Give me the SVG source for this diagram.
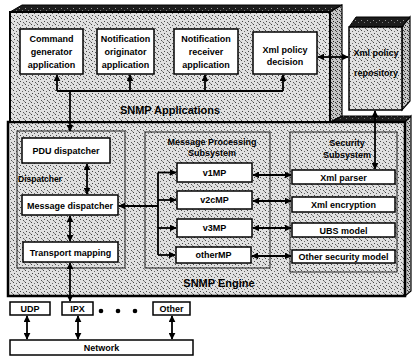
<svg xmlns="http://www.w3.org/2000/svg" width="414" height="359" viewBox="0 0 414 359">
<defs>
<pattern id="st" width="6" height="6" patternUnits="userSpaceOnUse">
<rect width="6" height="6" fill="#e0e0e0"/>
<rect x="1" y="0" width="1" height="1" fill="#444"/>
<rect x="4" y="1" width="1" height="1" fill="#666"/>
<rect x="2" y="3" width="1" height="1" fill="#444"/>
<rect x="5" y="4" width="1" height="1" fill="#555"/>
<rect x="0" y="5" width="1" height="1" fill="#888"/>
</pattern>
<pattern id="dk" width="6" height="6" patternUnits="userSpaceOnUse">
<rect width="6" height="6" fill="#1c1c1c"/>
<rect x="1" y="2" width="1" height="1" fill="#999"/>
<rect x="4" y="4" width="1" height="1" fill="#777"/>
</pattern>
<pattern id="sd" width="4" height="4" patternUnits="userSpaceOnUse">
<rect width="4" height="4" fill="#c4c4c4"/>
<rect x="1" y="1" width="1" height="1" fill="#222"/>
<rect x="3" y="2" width="1" height="1" fill="#333"/>
<rect x="0" y="3" width="1" height="1" fill="#444"/>
</pattern>
<marker id="ah" viewBox="0 0 10 10" refX="9" refY="5" markerWidth="7" markerHeight="7" markerUnits="userSpaceOnUse" orient="auto-start-reverse">
<path d="M0,0 L10,5 L0,10 z" fill="#000"/>
</marker>
<style>
text{font-family:"Liberation Sans",Arial,sans-serif;font-weight:bold;fill:#000;}
.t{font-size:9px;text-anchor:middle;}
.big{font-size:11px;text-anchor:middle;}
.box{fill:#fff;stroke:#000;stroke-width:1.5;}
.grp{fill:url(#st);stroke:#222;stroke-width:1;}
.top{fill:url(#dk);stroke:#000;stroke-width:1;}
.side{fill:url(#sd);stroke:#000;stroke-width:1.2;}
.ln{fill:none;stroke:#000;stroke-width:1.8;}
.a1{marker-end:url(#ah);}
.a2{marker-start:url(#ah);marker-end:url(#ah);}
</style>
</defs>
<rect width="414" height="359" fill="#fff"/>

<g id="snmp-engine">
<polygon class="top" points="330,122 342,116 411,116 405,122"/>
<polygon class="side" points="405,122 411,116 411,291 405,296"/>
<rect x="8" y="122" width="397" height="174" fill="url(#st)" stroke="#000" stroke-width="2.5"/>
<text class="big" x="219" y="287">SNMP Engine</text>
</g>

<g id="snmp-applications">
<polygon class="top" points="10,12 22,5 342,5 330,12"/>
<polygon class="side" points="330,12 342,5 342,116 330,122"/>
<rect x="10" y="12" width="320" height="110" fill="url(#st)" stroke="#000" stroke-width="2"/>
<text class="big" x="170" y="114">SNMP Applications</text>
</g>

<g id="xml-policy-repository">
<polygon class="top" points="349,27 356,17 410,17 402,27"/>
<polygon class="side" points="402,27 410,17 410,101 402,110"/>
<rect x="349" y="27" width="53" height="83" fill="url(#st)" stroke="#000" stroke-width="1.5"/>
<text class="t" x="376" y="56">Xml policy</text>
<text class="t" x="376" y="76">repository</text>
</g>

<g id="command-generator">
<rect class="box" x="20" y="29" width="63" height="45"/>
<text class="t" x="51.5" y="42">Command</text>
<text class="t" x="51.5" y="55">generator</text>
<text class="t" x="51.5" y="68">application</text>
</g>
<g id="notification-originator">
<rect class="box" x="97" y="29" width="57" height="45"/>
<text class="t" x="125.5" y="42">Notification</text>
<text class="t" x="125.5" y="55">originator</text>
<text class="t" x="125.5" y="68">application</text>
</g>
<g id="notification-receiver">
<rect class="box" x="174" y="29" width="64" height="45"/>
<text class="t" x="206" y="42">Notification</text>
<text class="t" x="206" y="55">receiver</text>
<text class="t" x="206" y="68">application</text>
</g>
<g id="xml-policy-decision">
<rect class="box" x="253" y="32" width="64" height="42"/>
<text class="t" x="285" y="53">Xml policy</text>
<text class="t" x="285" y="65">decision</text>
</g>

<g id="dispatcher">
<rect class="grp" x="17" y="131" width="108" height="137"/>
<text x="18" y="182" style="font-size:8.5px">Dispatcher</text>
</g>
<g id="pdu-dispatcher">
<rect class="box" x="22" y="138" width="88" height="25"/>
<text class="t" x="66" y="154">PDU dispatcher</text>
</g>
<g id="message-dispatcher">
<rect class="box" x="22" y="195" width="96" height="20"/>
<text class="t" x="70" y="208.5">Message dispatcher</text>
</g>
<g id="transport-mapping">
<rect class="box" x="23" y="242" width="95" height="20"/>
<text class="t" x="70.5" y="255.5">Transport mapping</text>
</g>

<g id="message-processing-subsystem">
<rect class="grp" x="145" y="132" width="125" height="136"/>
<text class="t" x="212" y="145">Message Processing</text>
<text class="t" x="212" y="156">Subsystem</text>
</g>
<g id="v1mp"><rect class="box" x="177" y="163" width="75" height="19"/><text class="t" x="214.5" y="175.5">v1MP</text></g>
<g id="v2cmp"><rect class="box" x="177" y="191" width="75" height="18"/><text class="t" x="214.5" y="203">v2cMP</text></g>
<g id="v3mp"><rect class="box" x="177" y="219" width="75" height="18"/><text class="t" x="214.5" y="231">v3MP</text></g>
<g id="othermp"><rect class="box" x="176" y="247" width="75" height="16"/><text class="t" x="213.5" y="258">otherMP</text></g>

<g id="security-subsystem">
<rect class="grp" x="290" y="132" width="107" height="140"/>
<text class="t" x="347" y="146">Security</text>
<text class="t" x="347" y="158">Subsystem</text>
</g>
<g id="xml-parser"><rect class="box" x="292" y="170" width="103" height="14"/><text class="t" x="343.5" y="180.5">Xml parser</text></g>
<g id="xml-encryption"><rect class="box" x="292" y="197" width="103" height="15"/><text class="t" x="343.5" y="208">Xml encryption</text></g>
<g id="ubs-model"><rect class="box" x="292" y="223" width="103" height="14"/><text class="t" x="343.5" y="233.5">UBS model</text></g>
<g id="other-security-model"><rect class="box" x="292" y="250" width="103" height="13"/><text class="t" x="343.5" y="260">Other security model</text></g>

<g id="udp"><rect class="box" x="10" y="302" width="40" height="13"/><text class="t" x="30" y="312">UDP</text></g>
<g id="ipx"><rect class="box" x="62" y="302" width="31" height="13"/><text class="t" x="77.5" y="312">IPX</text></g>
<g id="ellipsis">
<circle cx="101" cy="311" r="2.3"/><circle cx="118" cy="311" r="2.3"/><circle cx="135" cy="311" r="2.3"/>
</g>
<g id="other"><rect class="box" x="153" y="302" width="37" height="13"/><text class="t" x="171.5" y="312">Other</text></g>
<g id="network"><rect class="box" x="10" y="340" width="183" height="15"/><text class="t" x="101.5" y="351">Network</text></g>

<g id="connectors">
<path class="ln" d="M57,91 H283"/>
<path class="ln a1" d="M57,91 V75"/>
<path class="ln a1" d="M130,91 V75"/>
<path class="ln a1" d="M205,91 V75"/>
<path class="ln a1" d="M283,91 V75"/>
<path class="ln a1" d="M70,91 V131"/>
<path class="ln a2" d="M318,57 H348"/>
<path class="ln a2" d="M375,111 V169"/>
<path class="ln a2" d="M87,164 V194"/>
<path class="ln a2" d="M70,216 V241"/>
<path class="ln a1" d="M158,206 H119"/>
<path class="ln" d="M158,172.5 V255"/>
<path class="ln a1" d="M158,172.5 H176"/>
<path class="ln a1" d="M158,200 H176"/>
<path class="ln a1" d="M158,228 H176"/>
<path class="ln a1" d="M158,255 H175"/>
<path class="ln a2" d="M253,175 H291"/>
<path class="ln a2" d="M253,201 H291"/>
<path class="ln a2" d="M253,228 H291"/>
<path class="ln a2" d="M252,256 H291"/>
<path class="ln a2" d="M70,263 V301"/>
<path class="ln a2" d="M27,316 V339"/>
<path class="ln a2" d="M78,316 V339"/>
<path class="ln a2" d="M172,316 V339"/>
</g>
</svg>
